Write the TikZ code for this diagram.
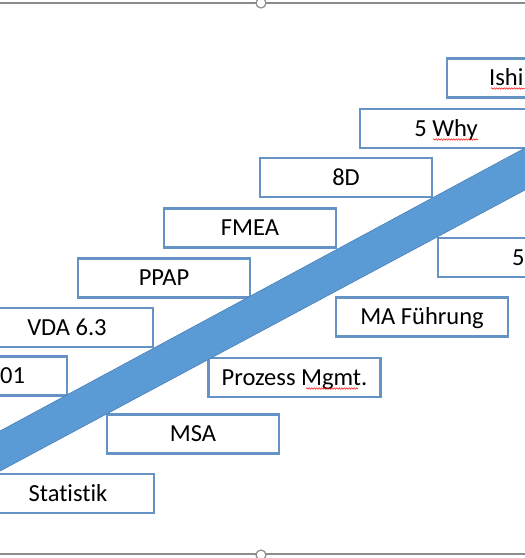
\documentclass[tikz,border=0pt]{standalone}
\usepackage{fontspec}
\setmainfont{Carlito}[Ligatures=NoCommon]
\usetikzlibrary{decorations.pathmorphing}
\definecolor{boxblue}{HTML}{6593C6}
\definecolor{bandblue}{HTML}{5B9BD5}
\definecolor{bandedge}{HTML}{4A80B8}
\definecolor{framegray}{HTML}{8C8C8C}
\begin{document}
\begin{tikzpicture}[x=1pt,y=-1pt,
  box/.style={draw=boxblue, line width=2.9pt, fill=white, minimum width=172pt, minimum height=39pt, inner sep=0pt, font=\fontsize{24.5}{28}\selectfont, text height=15.8pt, text depth=0pt},
  lbl/.style={inner sep=0pt, font=\fontsize{24.5}{28}\selectfont, text height=15.8pt, text depth=0pt},
  spell/.style={draw=red, line width=0.5pt, decorate, decoration={snake, amplitude=0.7pt, segment length=2.5pt}},
  frameline/.style={draw=framegray, line width=1.2pt},
  handle/.style={circle, draw=framegray, line width=1.2pt, fill=white, minimum size=10pt, inner sep=0pt}]
\useasboundingbox (0,0) rectangle (525,558);
\begin{scope}
\clip (0,0) rectangle (525,558);
% frame lines
\coordinate (ftl) at (-5,3);
\coordinate (ftr) at (530,3);
\coordinate (fbl) at (-5,554);
\coordinate (fbr) at (530,554);
\draw[frameline] (ftl) -- (ftr);
\draw[frameline] (fbl) -- (fbr);
\node[handle] (htop) at (261,3) {};
\node[handle] (hbot) at (261,555) {};
% boxes
\node[box] (ishi) at (533,78) {};
\node[lbl, anchor=west] (ishit) at (489,78) {Ishi};
\node[box] (why) at (446,128.5) {5 Why};
\node[box] (eightd) at (346,177.5) {8D};
\node[box] (fmea) at (250,228) {FMEA};
\node[box] (five) at (524,257.5) {};
\node[lbl, anchor=west] (fivet) at (512,257.5) {5};
\node[box] (ppap) at (164,278) {PPAP};
\node[box] (mafu) at (422,317) {MA Führung};
\node[box] (vda) at (67,327.5) {VDA 6.3};
\node[box] (iso) at (-19,376) {};
\node[lbl, anchor=west] (isot) at (0,376) {01};
\node[box] (prozess) at (294.5,377.5) {Prozess Mgmt.};
\node[box] (msa) at (193,434) {MSA};
\node[box] (stat) at (68,493.5) {Statistik};
% spell check underlines
\draw[spell] (491,88.5) -- (525,88.5);
\draw[spell] (433,139.5) -- (478,139.5);
\draw[spell] (306,388.5) -- (358,388.5);
% band
\coordinate (b1) at (-10,436.4);
\coordinate (b2) at (535,142.6);
\coordinate (b3) at (535,184.6);
\coordinate (b4) at (-10,476.4);
\filldraw[fill=bandblue, draw=bandedge, line width=0.6pt] (b1) -- (b2) -- (b3) -- (b4) -- cycle;
\end{scope}
\end{tikzpicture}
\end{document}
